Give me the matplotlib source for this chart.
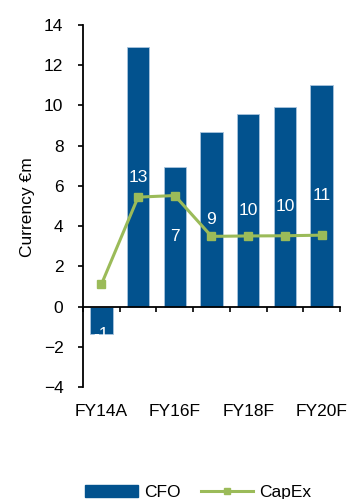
import matplotlib
matplotlib.use("Agg")
import matplotlib.pyplot as plt
from matplotlib.lines import Line2D
from matplotlib.patches import Patch
import numpy as np

plt.rcParams["font.family"] = ["Liberation Sans", "DejaVu Sans"]

years = ["FY14A", "FY15F", "FY16F", "FY17F", "FY18F", "FY19F", "FY20F"]
cfo = [-1.37, 12.88, 6.93, 8.67, 9.57, 9.92, 11.0]
capex = [1.10, 5.44, 5.52, 3.49, 3.51, 3.52, 3.55]
shown = ["FY14A", "FY16F", "FY18F", "FY20F"]

BLUE = "#02528E"
GREEN = "#9BBB59"
FS = 12.5

fig = plt.figure(figsize=(3.48, 4.99), dpi=100)
ax = fig.add_axes([0.2385, 0.2244, 0.7385, 0.7256])

x = np.arange(len(years))
ax.bar(x, cfo, width=0.61, color=BLUE, edgecolor="#A9C4DD", linewidth=0.6, zorder=2)
ax.plot(x, capex, color=GREEN, lw=2.2, marker="s", ms=5.5, zorder=3)

# white value labels in the middle of each bar (negative one sits at the bar end)
for xi, v in zip(x, cfo):
    yy = v / 2 if v > 0 else v
    ax.text(xi, yy, f"{v:.0f}", color="white", ha="center", va="center",
            fontsize=FS, zorder=4)

ax.set_xlim(-0.5, len(years) - 0.5)
ax.set_ylim(-4, 14)
ax.set_yticks(range(-4, 15, 2))
ax.tick_params(axis="y", labelsize=FS, length=3.6, width=1.2, pad=10.5)

# category axis drawn on the zero line, ticks at the boundaries
ax.spines["bottom"].set_position(("data", 0))
ax.set_xticks(np.arange(-0.5, len(years), 1.0))
ax.set_xticklabels([])
ax.tick_params(axis="x", length=3.6, width=1.2, direction="out")
for s in ("top", "right"):
    ax.spines[s].set_visible(False)
for s in ("left", "bottom"):
    ax.spines[s].set_linewidth(1.3)

for lab in shown:
    ax.text(years.index(lab), -0.047, lab, transform=ax.get_xaxis_transform(),
            ha="center", va="top", fontsize=FS)

fig.text(0.078, 0.585, "Currency €m", rotation=90, ha="center", va="center", fontsize=FS)

handles = [Patch(color=BLUE, label="CFO"),
           Line2D([], [], color=GREEN, lw=2.2, marker="s", ms=5, label="CapEx")]
fig.legend(handles=handles, loc="center", bbox_to_anchor=(0.57, 0.013), ncol=2,
           frameon=False, fontsize=FS, handlelength=3.0, handleheight=0.63,
           handletextpad=0.35, columnspacing=1.2, borderpad=0, markerscale=1,
           numpoints=1)

fig.savefig("out.png", dpi=100)
